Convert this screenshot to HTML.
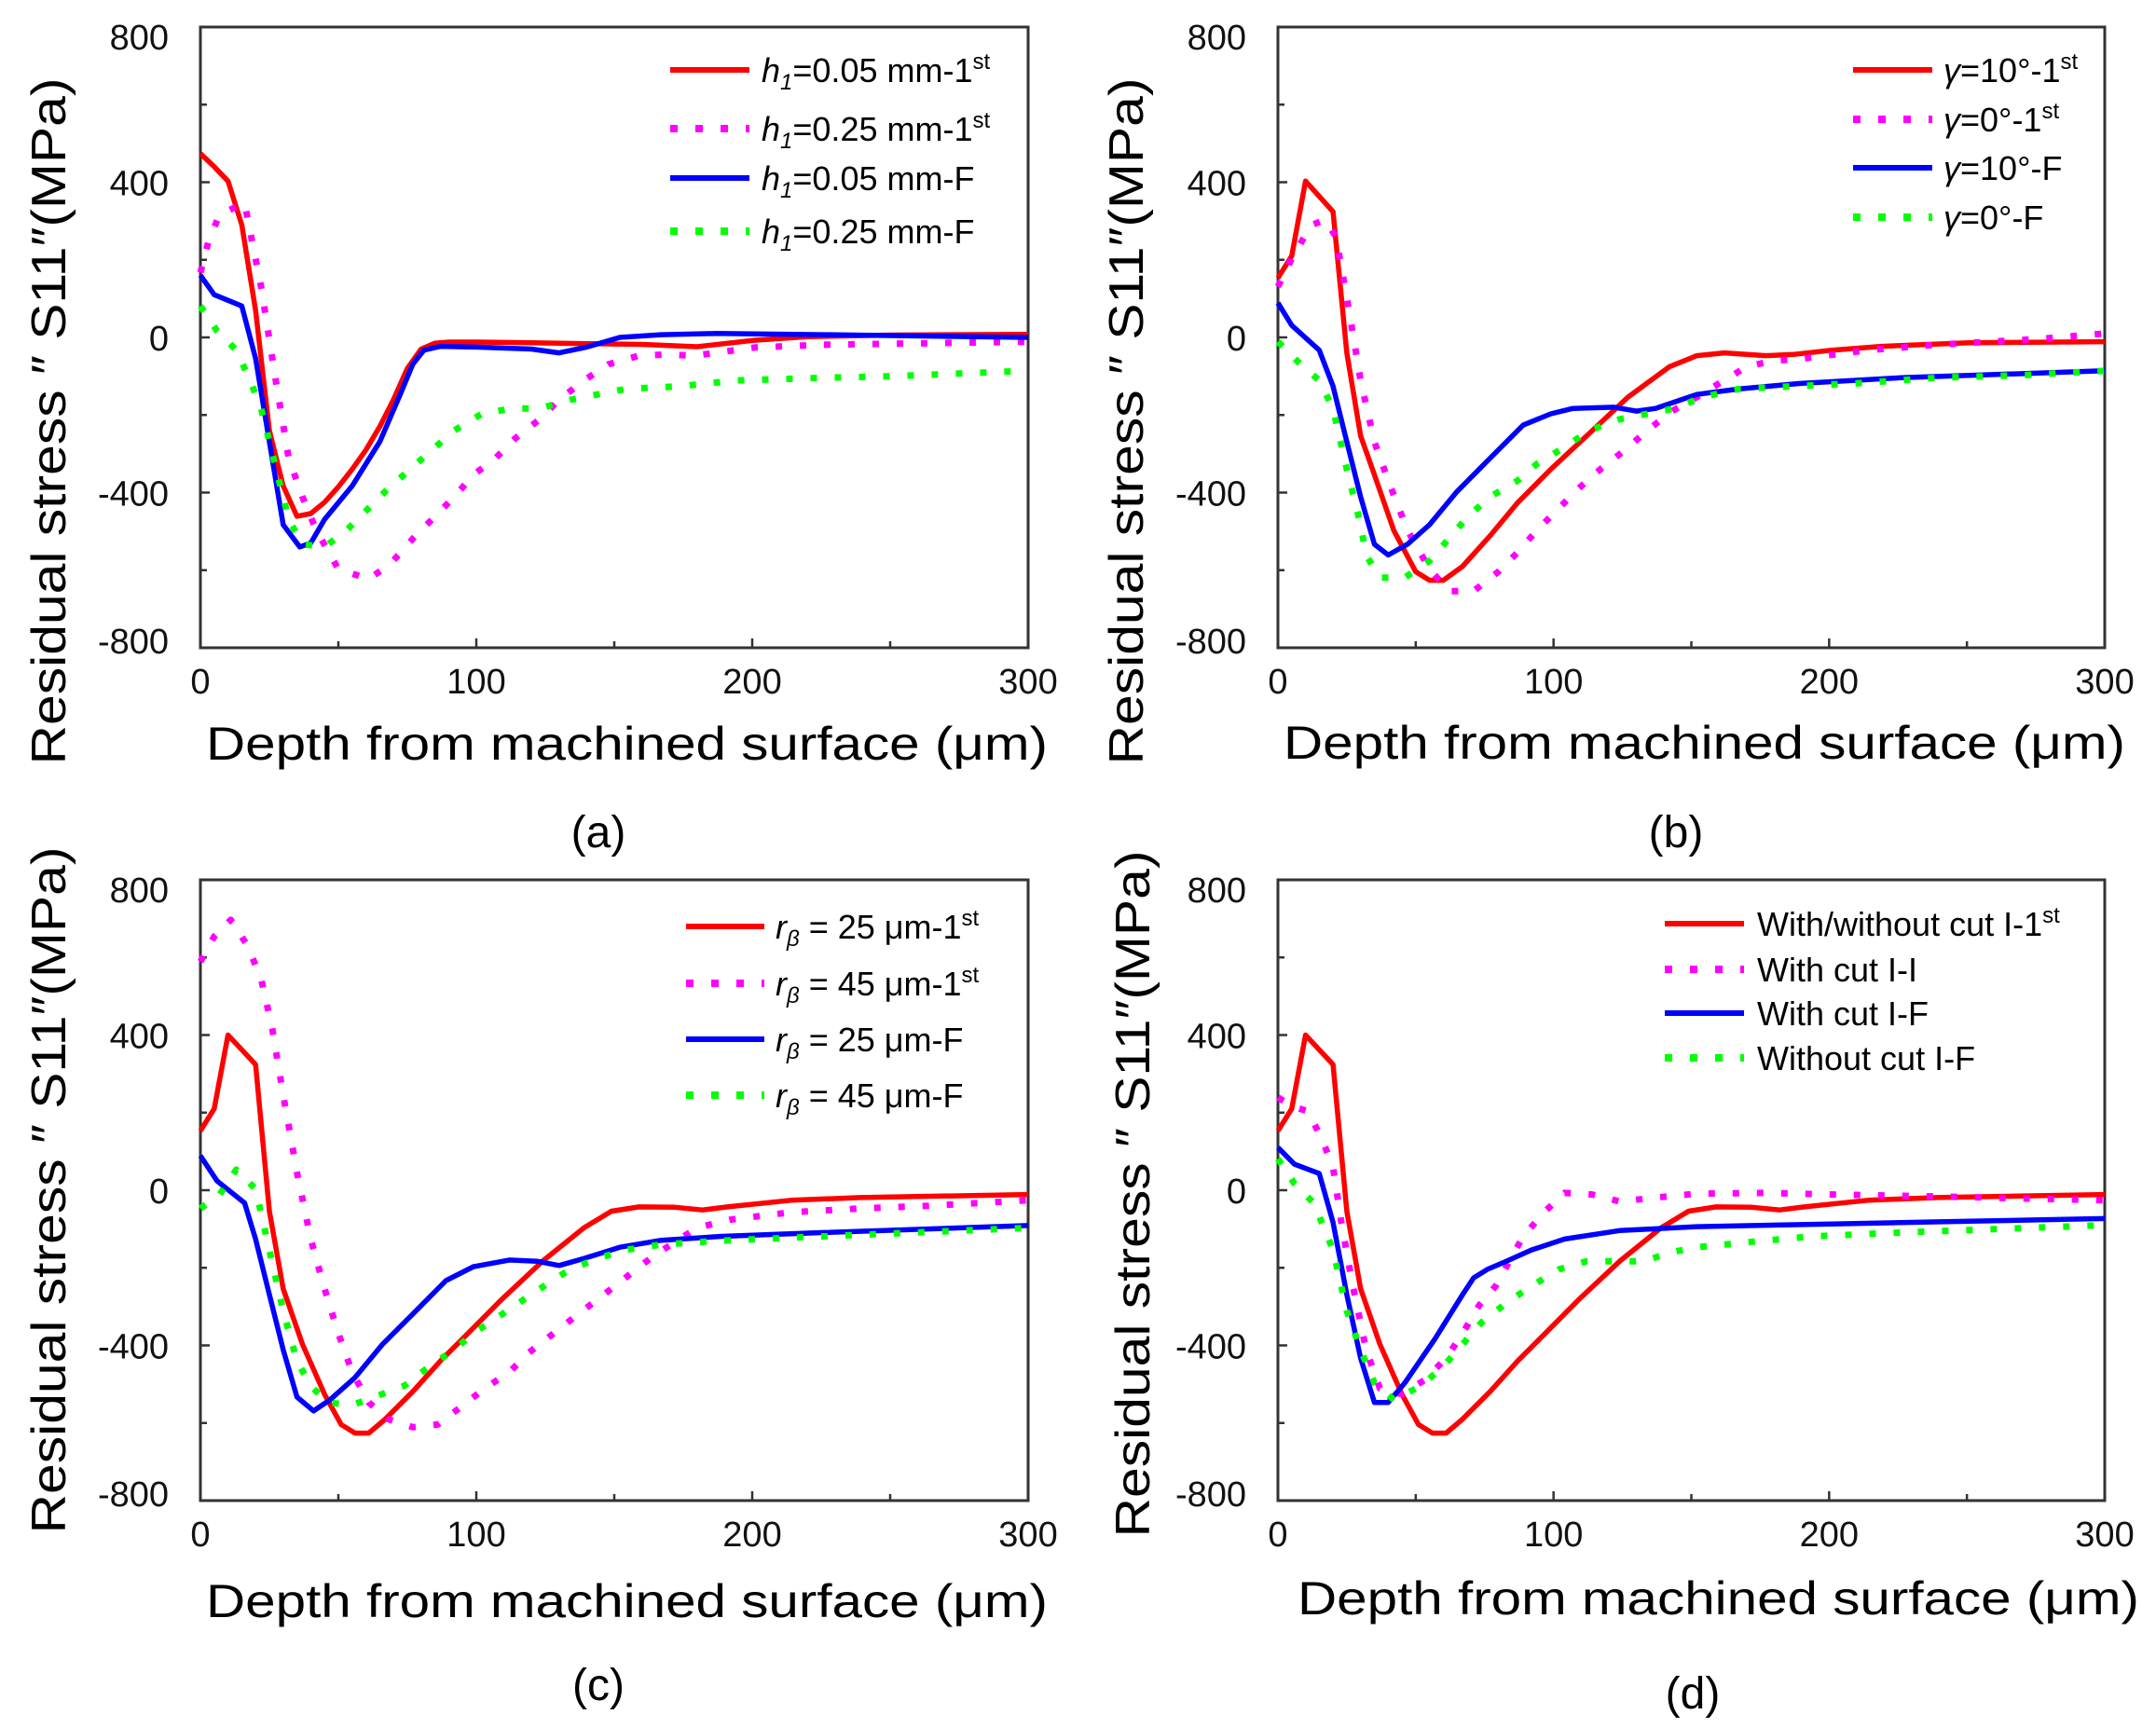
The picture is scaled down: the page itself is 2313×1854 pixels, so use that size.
<!DOCTYPE html>
<html><head><meta charset="utf-8"><style>
html,body{margin:0;padding:0;background:#fff;}
svg{display:block;font-family:"Liberation Sans",sans-serif;}
</style></head><body>
<svg id="fig" width="2313" height="1854" viewBox="0 0 2313 1854" xmlns="http://www.w3.org/2000/svg"></svg>
<script>
// ---- Panel (a) data ----
const aRedX=[0,5,10,15,20,25,30,35,40,45,50,55,60,65,70,75,80,85,90,100,120,140,160,180,200,220,250,300];
const aRedY=[474,440,403,290,70,-240,-383,-461,-454,-425,-385,-340,-290,-230,-160,-80,-30,-15,-12,-12,-14,-16,-18,-24,-8,2,6,8];
const aMagX=[0,3,7,16,22,27,32,37,42,50,61,69,77,84,92,99,107,114,123,130,139,148,159,169,179,201,226,300];
const aMagY=[167,250,317,346,131,-97,-311,-411,-497,-597,-623,-583,-519,-469,-411,-354,-311,-261,-211,-161,-111,-69,-47,-44,-47,-26,-19,-11];
const aBluX=[0,5,15,20,25,30,36,40,45,55,65,72,77,81,87,100,120,130,140,152,167,187,226,300];
const aBluY=[160,110,81,-54,-269,-483,-540,-530,-469,-383,-269,-154,-69,-33,-23,-25,-30,-40,-25,0,7,10,7,0];
const aGrnX=[0,6,13,18,22,27,32,37,45,53,61,68,76,84,92,102,113,123,134,144,154,174,194,226,251,300];
const aGrnY=[81,17,-33,-111,-183,-326,-469,-533,-540,-497,-440,-390,-340,-290,-240,-197,-183,-183,-161,-147,-133,-126,-111,-104,-100,-86];
// ---- Panel (b) data ----
const bRedX=[0,5,10,20,25,30,35,42,50,55,60,67,77,87,99,112,127,142,152,162,177,187,201,219,251,300];
const bRedY=[153,210,403,324,-40,-254,-354,-497,-604,-626,-626,-590,-511,-426,-340,-254,-154,-76,-47,-40,-47,-44,-33,-23,-14,-11];
const bMagX=[0,5,12,17,21,25,30,35,40,47,55,62,71,80,87,94,102,109,117,126,134,143,152,160,170,179,191,214,239,276,300];
const bMagY=[131,203,289,303,260,103,-111,-269,-369,-497,-597,-654,-654,-604,-554,-497,-440,-390,-340,-290,-240,-190,-154,-119,-76,-61,-54,-33,-19,-4,10];
const bBluX=[0,5,15,20,25,30,35,40,47,55,65,77,89,99,107,122,130,137,152,167,189,226,300];
const bBluY=[89,31,-33,-126,-269,-411,-533,-561,-533,-483,-397,-311,-226,-197,-183,-180,-190,-183,-147,-133,-119,-104,-86];
const bGrnX=[0,7,15,20,25,30,32,37,46,55,62,69,77,87,94,104,113,124,134,144,154,167,187,209,239,271,300];
const bGrnY=[-11,-61,-111,-183,-340,-483,-561,-619,-619,-576,-519,-461,-411,-369,-326,-283,-240,-211,-197,-183,-154,-133,-126,-119,-104,-97,-86];
// ---- Panel (c) data ----
const cRedX=[0,5,10,20,25,30,37,45,51,56,61,67,77,87,97,109,124,139,149,159,172,182,191,214,239,300];
const cRedY=[153,210,400,324,-54,-254,-397,-526,-604,-626,-626,-590,-519,-440,-369,-283,-183,-97,-54,-43,-44,-51,-43,-26,-19,-11];
const cMagX=[0,5,11,17,22,26,30,35,40,45,50,55,61,68,77,86,94,103,112,119,128,137,145,154,163,172,180,192,214,239,264,300];
const cMagY=[589,654,697,631,546,417,246,46,-126,-254,-369,-469,-547,-590,-611,-604,-561,-511,-469,-419,-369,-319,-276,-226,-176,-133,-97,-76,-57,-47,-40,-26];
const cBluX=[0,6,16,20,25,30,35,41,47,56,66,77,89,99,112,122,130,139,152,167,189,226,300];
const cBluY=[89,24,-33,-126,-269,-411,-533,-569,-540,-483,-397,-319,-233,-197,-180,-183,-194,-176,-147,-129,-119,-109,-91];
const cGrnX=[0,7,13,20,25,30,35,40,46,55,63,74,83,92,99,108,117,126,134,144,154,167,189,226,300];
const cGrnY=[-47,-11,53,3,-154,-311,-440,-504,-547,-554,-533,-504,-454,-411,-369,-326,-283,-240,-204,-176,-154,-140,-130,-119,-97];
// ---- Panel (d) data ----
const dRedX=cRedX.slice();
const dRedY=cRedY.slice();
const dMagX=[0,5,11,16,20,23,27,32,37,45,53,61,67,73,79,89,97,104,114,124,137,152,177,201,239,300];
const dMagY=[239,217,203,131,60,-83,-240,-411,-511,-526,-490,-433,-369,-297,-247,-119,-54,-7,-11,-29,-19,-9,-7,-11,-16,-26];
const dBluX=[0,6,15,20,25,30,35,40,46,57,67,71,76,82,92,104,124,152,201,251,300];
const dBluY=[110,67,43,-83,-269,-433,-547,-547,-497,-383,-269,-226,-204,-186,-154,-126,-104,-94,-87,-80,-73];
const dGrnX=[0,6,13,20,25,30,35,42,52,60,67,74,83,92,102,112,123,133,142,152,172,194,226,300];
const dGrnY=[81,17,-33,-154,-311,-411,-497,-540,-504,-454,-397,-340,-290,-247,-204,-183,-183,-183,-161,-147,-133,-119,-109,-90];

const xTicks=[0,100,200,300];
const yTicks=[-800,-400,0,400,800];

const NS="http://www.w3.org/2000/svg";
const svg=document.getElementById('fig');
function mk(tag,attrs,parent){const e=document.createElementNS(NS,tag);for(const k in attrs)e.setAttribute(k,attrs[k]);(parent||svg).appendChild(e);return e;}
const COL={red:'#ff0000',mag:'#ff00ff',blu:'#0000ff',grn:'#00ff00'};

const panels=[
 {id:'a',L:215,R:1103,y0:362,lab:[642,909],yt:[52,452],xt:[221,815],
  leg:{x1:719,x2:804,tx:817,rows:[75,138,191,248]},
  series:[['red',aRedX,aRedY],['mag',aMagX,aMagY],['blu',aBluX,aBluY],['grn',aGrnX,aGrnY]],
  legText:[['h','1','=0.05 mm-1','st'],['h','1','=0.25 mm-1','st'],['h','1','=0.05 mm-F',''],['h','1','=0.25 mm-F','']]},
 {id:'b',L:1371,R:2258,y0:362,lab:[1798,909],yt:[1208,452],xt:[1377,814],
  leg:{x1:1988,x2:2073,tx:2085,rows:[75,128,180,233]},
  series:[['red',bRedX,bRedY],['mag',bMagX,bMagY],['blu',bBluX,bBluY],['grn',bGrnX,bGrnY]],
  legText:[['γ','','=10°-1','st'],['γ','','=0°-1','st'],['γ','','=10°-F',''],['γ','','=0°-F','']]},
 {id:'c',L:215,R:1103,y0:1277,lab:[642,1824],yt:[52,1277],xt:[221,1735],
  leg:{x1:736,x2:820,tx:832,rows:[994,1055,1115,1175]},
  series:[['red',cRedX,cRedY],['mag',cMagX,cMagY],['blu',cBluX,cBluY],['grn',cGrnX,cGrnY]],
  legText:[['r','β',' = 25 μm-1','st'],['r','β',' = 45 μm-1','st'],['r','β',' = 25 μm-F',''],['r','β',' = 45 μm-F','']]},
 {id:'d',L:1371,R:2258,y0:1277,lab:[1816,1833],yt:[1215,1281],xt:[1392,1732],
  leg:{x1:1786,x2:1871,tx:1885,rows:[991,1040,1087,1135]},
  series:[['red',dRedX,dRedY],['mag',dMagX,dMagY],['blu',dBluX,dBluY],['grn',dGrnX,dGrnY]],
  legText:[['','','With/without cut I-1','st'],['','','With cut I-I',''],['','','With cut I-F',''],['','','Without cut I-F','']]}
];

panels.forEach(p=>{
  const g=mk('g',{});
  
  
  const sy=166.5/400;
  const X=v=>p.L+(v/300)*(p.R-p.L);
  const Y=v=>p.y0-v*sy;
  const top=Y(800),bot=Y(-800);
  const fr=mk('rect',{x:p.L,y:top,width:p.R-p.L,height:bot-top,fill:'none',stroke:'#333',"stroke-width":3},g);
  
  
  for(let v=0;v<=300;v+=50){
    const len=v%100===0?10:7;
    const t=mk('line',{x1:X(v),x2:X(v),y1:bot,y2:bot-len,stroke:'#333',"stroke-width":2.5},g);
    
    
  }
  for(let v=-800;v<=800;v+=200){
    const len=v%400===0?10:7;
    const t=mk('line',{x1:p.L,x2:p.L+len,y1:Y(v),y2:Y(v),stroke:'#333',"stroke-width":2.5},g);
    
    
  }
  xTicks.forEach(v=>{
    const t=mk('text',{x:X(v),y:bot+49,"font-size":38,"text-anchor":"middle",fill:'#111'},g);
    t.textContent=v;
    
    
  });
  yTicks.forEach(v=>{
    const off=v===800?10:(v===-800?-8:0);
    const t=mk('text',{x:p.L-34,y:Y(v)+14+off,"font-size":38,"text-anchor":"end",fill:'#111'},g);
    t.textContent=v===0?'0':(v<0?'-'+(-v):v);
    
    
  });
  const xt=mk('text',{x:p.xt[0],y:p.xt[1],"font-size":50,textLength:903,lengthAdjust:'spacingAndGlyphs',fill:'#000'},g);
  xt.textContent='Depth from machined surface (μm)';
  
  
  const yt=mk('text',{x:0,y:0,"font-size":52,"text-anchor":"middle",textLength:737,lengthAdjust:'spacingAndGlyphs',fill:'#000',transform:`translate(${p.yt[0]+18},${p.yt[1]}) rotate(-90)`},g);
  yt.textContent='Residual stress ″ S11″(MPa)';
  
  
  const lb=mk('text',{x:p.lab[0],y:p.lab[1],"font-size":48,"text-anchor":"middle",fill:'#000'},g);
  lb.textContent='('+p.id+')';
  
  
  p.series.forEach(([c,xs,ys],i)=>{
    let d='';
    xs.forEach((xv,k)=>{d+=(k?'L':'M')+X(xv).toFixed(1)+','+Y(ys[k]).toFixed(1);});
    const dotted=(c==='mag'||c==='grn');
    const attrs={d:d,fill:'none',stroke:COL[c],"stroke-width":dotted?7:5.5,"stroke-linejoin":"round"};
    if(dotted){attrs["stroke-dasharray"]="7 19";}
    const path=mk('path',attrs,g);
    
    
  });
  p.legText.forEach((lt,i)=>{
    const c=['red','mag','blu','grn'][i];
    const dotted=(c==='mag'||c==='grn');
    const yy=p.leg.rows[i];
    const la={x1:p.leg.x1,x2:p.leg.x2,y1:yy,y2:yy,stroke:COL[c],"stroke-width":dotted?8:6};
    if(dotted){la["stroke-dasharray"]="8 19";}
    const ln=mk('line',la,g);
    
    
    const t=mk('text',{x:p.leg.tx,y:yy+13,"font-size":36,fill:'#000'},g);
    
    
    if(lt[0]){const s=mk('tspan',{"font-style":"italic"},t);s.textContent=lt[0];}
    if(lt[1]){const s=mk('tspan',{"font-size":24,dy:8,"font-style":"italic"},t);s.textContent=lt[1];
      const s2=mk('tspan',{dy:-8},t);s2.textContent=lt[2];}
    else{const s2=mk('tspan',{},t);s2.textContent=lt[2];}
    if(lt[3]){const s=mk('tspan',{"font-size":24,dy:-14},t);s.textContent=lt[3];}
  });
});
</script>
</body></html>
